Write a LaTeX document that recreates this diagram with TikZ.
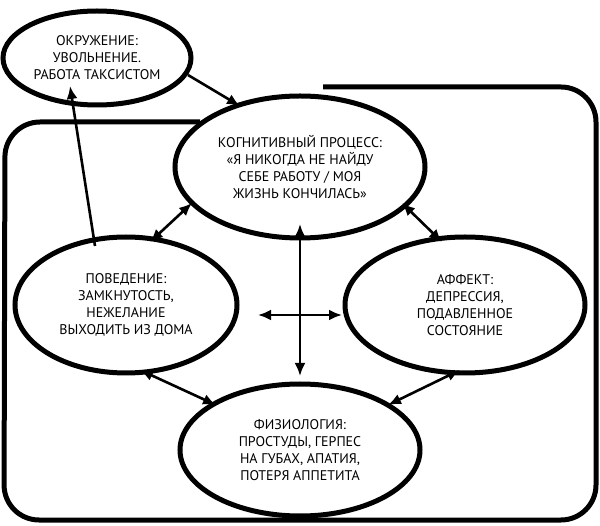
\documentclass[tikz,border=0pt]{standalone}
\usepackage{fontspec}
\setmainfont{PT Sans}
\usetikzlibrary{shapes.geometric,arrows.meta}
\tikzset{
  bubble/.style={ellipse,draw,line width=5pt,fill=white,align=center,inner sep=0pt,
    font=\fontsize{14}{17}\selectfont},
  link/.style={line width=2.6pt,-{Latex[length=13pt,width=11pt]}},
  both/.style={line width=2.6pt,{Latex[length=13pt,width=11pt]}-{Latex[length=13pt,width=11pt]}}
}
\begin{document}
\begin{tikzpicture}[x=1pt,y=-1pt]
\useasboundingbox (0,0) rectangle (600,526);
% frame
\draw[line width=5pt,rounded corners=35pt] (200,122) -- (5,122) -- (4,520) -- (596,520) -- (596,87) -- (323,87);
% bubbles
\node[bubble,minimum width=188,minimum height=94] (env) at (97,58)
  {ОКРУЖЕНИЕ:\\УВОЛЬНЕНИЕ.\\РАБОТА ТАКСИСТОМ};
\node[bubble,minimum width=250,minimum height=142] (cog) at (300,167)
  {КОГНИТИВНЫЙ ПРОЦЕСС:\\«Я НИКОГДА НЕ НАЙДУ\\СЕБЕ РАБОТУ / МОЯ\\ЖИЗНЬ КОНЧИЛАСЬ»};
\node[bubble,minimum width=222,minimum height=136] (beh) at (126,305)
  {ПОВЕДЕНИЕ:\\ЗАМКНУТОСТЬ,\\НЕЖЕЛАНИЕ\\ВЫХОДИТЬ ИЗ ДОМА};
\node[bubble,minimum width=240,minimum height=136] (aff) at (465,305)
  {АФФЕКТ:\\ДЕПРЕССИЯ,\\ПОДАВЛЕННОЕ\\СОСТОЯНИЕ};
\node[bubble,minimum width=240,minimum height=132] (phy) at (300,450)
  {ФИЗИОЛОГИЯ:\\ПРОСТУДЫ, ГЕРПЕС\\НА ГУБАХ, АПАТИЯ,\\ПОТЕРЯ АППЕТИТА};
% links
\coordinate (envout) at (188,75);
\coordinate (cogin) at (240,106);
\coordinate (behup) at (95,246);
\coordinate (envdn) at (70,86);
\draw[link] (envout) -- (cogin);
\draw[link] (behup) -- (envdn);
% two-way links
\coordinate (c1) at (192,203);
\coordinate (b1) at (150,242);
\coordinate (c2) at (402,203);
\coordinate (a2) at (442,242);
\coordinate (b3) at (140,370);
\coordinate (p3) at (216,405);
\coordinate (a4) at (460,370);
\coordinate (p4) at (388,405);
\draw[both] (c1) -- (b1);
\draw[both] (c2) -- (a2);
\draw[both] (b3) -- (p3);
\draw[both] (a4) -- (p4);
% cross
\coordinate (up) at (300,224);
\coordinate (dn) at (300,376);
\coordinate (lt) at (258,315);
\coordinate (rt) at (342,315);
\draw[both] (up) -- (dn);
\draw[both] (lt) -- (rt);
\end{tikzpicture}
\end{document}
